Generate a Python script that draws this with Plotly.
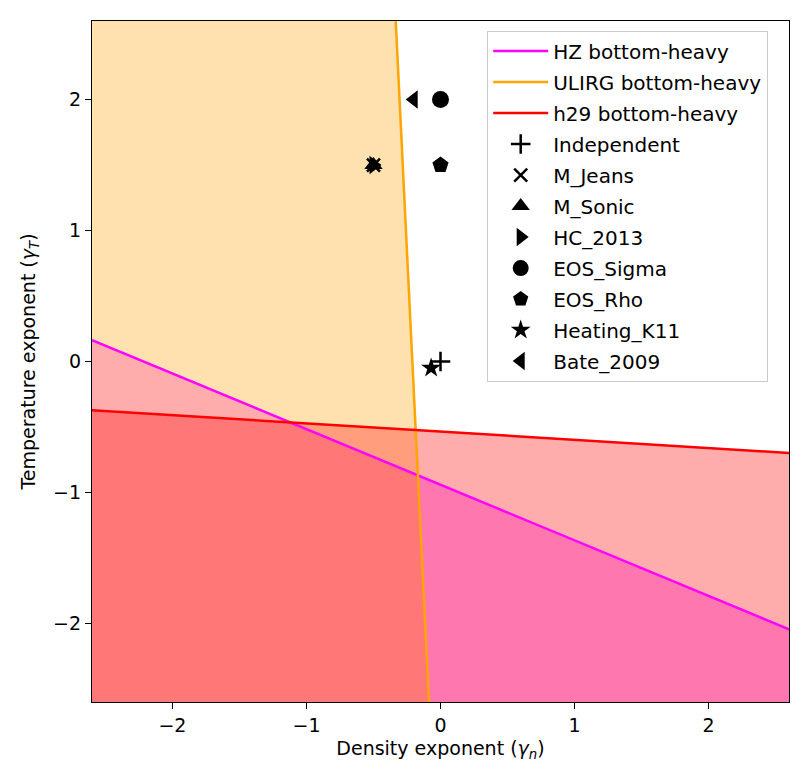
import plotly.graph_objects as go

# ---- data ----
# criterion lines (endpoints)
hz_x = [-2.6, 2.6]
hz_y = [0.163, -2.045]
h29_x = [-2.6, 2.6]
h29_y = [-0.372, -0.698]
ulirg_x = [-0.334, -0.086]
ulirg_y = [2.6, -2.6]

# simulation points
pt_names = ["Independent", "M_Jeans", "M_Sonic", "HC_2013", "EOS_Sigma", "EOS_Rho", "Heating_K11", "Bate_2009"]
pt_gn = [0.0, -0.5, -0.5, -0.5, 0.0, 0.0, -0.07, -0.2]
pt_gt = [0.0, 1.5, 1.5, 1.5, 2.0, 1.5, -0.05, 2.0]
pt_symbols = ["cross-thin", "x-thin", "triangle-up", "triangle-right", "circle", "pentagon", "star", "triangle-left"]

xr = [-2.6, 2.6]
yr = [-2.6, 2.6]

# ---- geometry helpers ----
def line_fn(xs, ys):
    s = (ys[1] - ys[0]) / (xs[1] - xs[0])
    return lambda x: ys[0] + s * (x - xs[0])

def xline_fn(xs, ys):
    s = (xs[1] - xs[0]) / (ys[1] - ys[0])
    return lambda y: xs[0] + s * (y - ys[0])

f_hz = line_fn(hz_x, hz_y)
f_h29 = line_fn(h29_x, h29_y)
g_ul = xline_fn(ulirg_x, ulirg_y)

# half-plane value functions (<=0 means inside)
below_hz = lambda p: p[1] - f_hz(p[0])
above_hz = lambda p: f_hz(p[0]) - p[1]
below_h29 = lambda p: p[1] - f_h29(p[0])
above_h29 = lambda p: f_h29(p[0]) - p[1]
left_ul = lambda p: p[0] - g_ul(p[1])
right_ul = lambda p: g_ul(p[1]) - p[0]

def clip(poly, fn):
    out = []
    n = len(poly)
    for i in range(n):
        a, b = poly[i], poly[(i + 1) % n]
        va, vb = fn(a), fn(b)
        if va <= 0:
            out.append(a)
        if (va <= 0) != (vb <= 0):
            t = va / (va - vb)
            out.append((a[0] + t * (b[0] - a[0]), a[1] + t * (b[1] - a[1])))
    return out

box = [(xr[0], yr[0]), (xr[1], yr[0]), (xr[1], yr[1]), (xr[0], yr[1])]

def region(*fns):
    poly = box
    for fn in fns:
        poly = clip(poly, fn)
        if not poly:
            break
    return poly

regions = [
    (region(above_hz, above_h29, left_ul), "#FEE1AE"),
    (region(below_hz, above_h29), "#FFACAC"),
    (region(above_hz, below_h29, right_ul), "#FFACAC"),
    (region(above_hz, below_h29, left_ul), "#FF9D7C"),
    (region(below_hz, below_h29, left_ul), "#FF7777"),
    (region(below_hz, below_h29, right_ul), "#FF77AE"),
]

fig = go.Figure()
for poly, col in regions:
    if len(poly) < 3:
        continue
    fig.add_trace(go.Scatter(
        x=[p[0] for p in poly] + [poly[0][0]],
        y=[p[1] for p in poly] + [poly[0][1]],
        mode="lines", fill="toself", fillcolor=col,
        line=dict(width=0, color=col), hoverinfo="skip", showlegend=False))

fig.add_trace(go.Scatter(x=hz_x, y=hz_y, mode="lines", name="HZ bottom-heavy",
                         line=dict(color="#FF00FF", width=2.5), legendgroup="a"))
fig.add_trace(go.Scatter(x=ulirg_x, y=ulirg_y, mode="lines", name="ULIRG bottom-heavy",
                         line=dict(color="#FFA500", width=2.5), legendgroup="b"))
fig.add_trace(go.Scatter(x=h29_x, y=h29_y, mode="lines", name="h29 bottom-heavy",
                         line=dict(color="#FF0000", width=2.5), legendgroup="c"))

sizes = {"cross-thin": 14, "x-thin": 13, "triangle-up": 16, "triangle-right": 16,
         "circle": 17, "pentagon": 17, "star": 15, "triangle-left": 16}
for i, (nm, gx, gt, sym) in enumerate(zip(pt_names, pt_gn, pt_gt, pt_symbols)):
    thin = sym.endswith("-thin")
    fig.add_trace(go.Scatter(
        x=[gx], y=[gt], mode="markers", name=nm, legendgroup="m%d" % i,
        marker=dict(symbol=sym, size=sizes[sym], color="black",
                    line=dict(color="black", width=2.5 if thin else 0))))

FS = 19
axis_common = dict(showgrid=False, zeroline=False, showline=True,
                   linecolor="black", linewidth=1.2, mirror=True, ticks="outside",
                   ticklen=6, tickwidth=1.2, tickcolor="black",
                   tickfont=dict(family="DejaVu Sans", size=FS, color="black"))

fig.update_xaxes(**axis_common, range=xr, tickvals=[-2, -1, 0, 1, 2],
                 title=dict(text="Density exponent (<i>γ<sub>n</sub></i>)",
                            font=dict(family="DejaVu Sans", size=FS, color="black"), standoff=6))
fig.update_yaxes(**axis_common, range=yr, tickvals=[-2, -1, 0, 1, 2],
                 title=dict(text="Temperature exponent (<i>γ<sub>T</sub></i>)",
                            font=dict(family="DejaVu Sans", size=FS, color="black"), standoff=12))

fig.update_layout(
    width=812, height=783,
    margin=dict(l=92, r=23, t=21, b=81),
    paper_bgcolor="white", plot_bgcolor="white",
    font=dict(family="DejaVu Sans", color="black"),
    legend=dict(x=0.567, y=0.986, xanchor="left", yanchor="top",
                bgcolor="rgba(255,255,255,0.9)", bordercolor="#CCCCCC", borderwidth=1,
                font=dict(family="DejaVu Sans", size=20, color="black"),
                tracegroupgap=2, traceorder="grouped", itemwidth=55),
)

fig.write_html("out.html")
